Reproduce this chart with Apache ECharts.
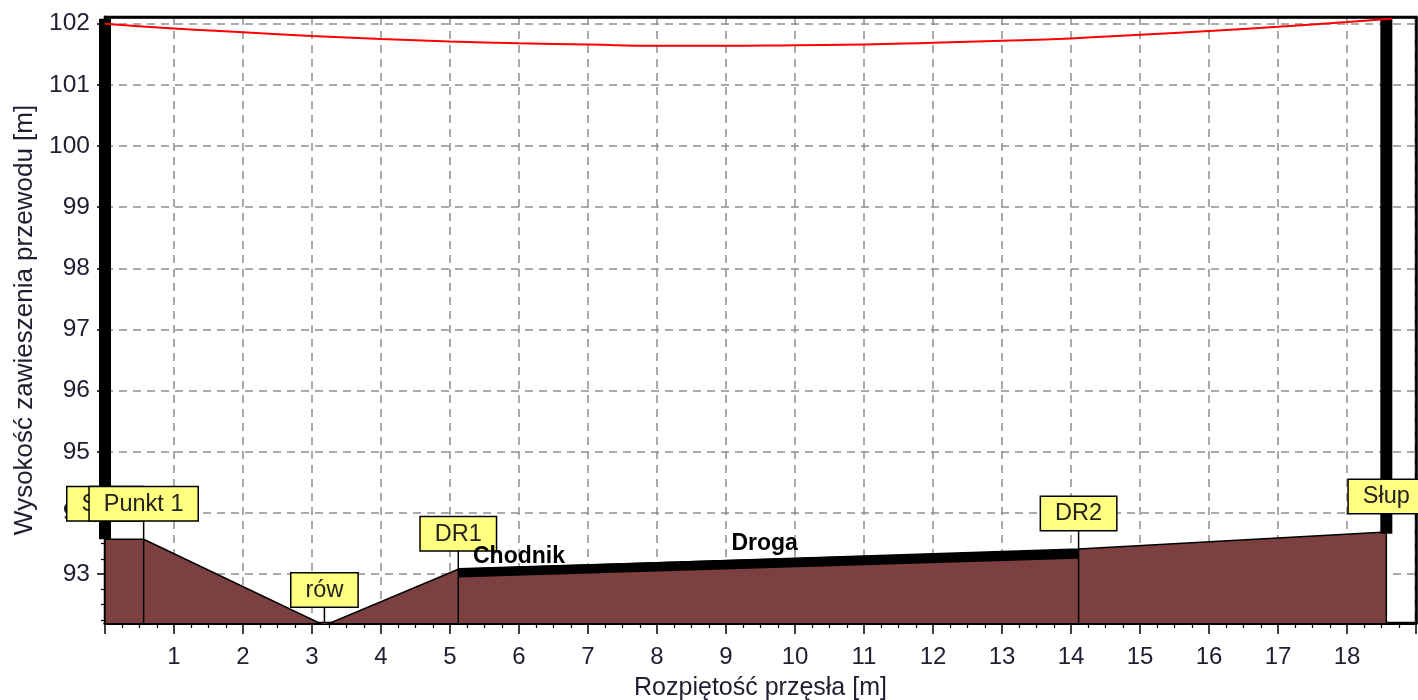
<!DOCTYPE html>
<html><head><meta charset="utf-8">
<script src="https://cdn.jsdelivr.net/npm/echarts@6/dist/echarts.min.js"></script>
<style>html,body{margin:0;padding:0;background:#fff}#c{width:1418px;height:700px}</style>
</head><body><div id="c"></div>
<script>
// ---- data ----
const Y_MIN = 92.2, Y_MAX = 102.11, X_MIN = 0, X_MAX = 19;
const yTickValues = [93, 94, 95, 96, 97, 98, 99, 100, 101, 102];
const xLabelValues = [1, 2, 3, 4, 5, 6, 7, 8, 9, 10, 11, 12, 13, 14, 15, 16, 17, 18];

const groundX = [0, 0.56, 3.18, 5.12, 14.11, 18.57];
const groundY = [93.57, 93.57, 92.16, 93.08, 93.41, 93.69];

const roadX = [5.12, 14.11];
const roadY = [93.02, 93.33];
const roadLabels = ['Chodnik', 'Droga'];
const roadLabelX = [6.0, 9.56];
const roadLabelY = [93.10, 93.31];

const conductorX = [0, 1, 2, 3, 4, 5, 6, 7, 8, 9, 10, 11, 12, 13, 14, 15, 16, 17, 18, 18.65];
const conductorY = [102.00, 101.92, 101.86, 101.80, 101.75, 101.71, 101.68, 101.66, 101.64, 101.64,
                    101.65, 101.66, 101.69, 101.72, 101.76, 101.82, 101.88, 101.95, 102.03, 102.08];

const poleX = [0, 18.57];
const poleBase = [93.57, 93.66];
const poleTop = [102.08, 102.08];

const markerNames = ['Słup', 'Punkt 1', 'rów', 'DR1', 'DR2', 'Słup'];
const markerX = [0, 0.56, 3.18, 5.12, 14.11, 18.57];
const markerY = [93.57, 93.57, 92.16, 93.08, 93.41, 93.69];

// ---- build ----
const FONT = '"Liberation Sans", Arial, sans-serif';
const zip = (a, b) => a.map((v, i) => [v, b[i]]);
const yMinorValues = [];
for (let v = 92.25; v < Y_MAX; v += 0.25) {
  const r = Math.round(v * 100) / 100;
  if (Math.abs(r - Math.round(r)) > 1e-6) yMinorValues.push(r);
}
const gridDash = { color: '#8f8f8f', width: 1.5, type: [8, 6] };
const textColor = '#1e1e30';

const chart = echarts.init(document.getElementById('c'), null, { renderer: 'canvas' });

const poleSeries = poleX.map((px, i) => ({
  type: 'line', data: [[px, poleBase[i]], [px, poleTop[i]]],
  symbol: 'none', lineStyle: { color: '#000', width: 12 }, z: 4, silent: true
}));

chart.setOption({
  animation: false,
  grid: { left: 105, right: 2, top: 17, bottom: 77, show: true, borderColor: '#000', borderWidth: 2.5,
          containLabel: false, outerBoundsMode: 'none' },
  xAxis: [{
    type: 'value', min: X_MIN, max: X_MAX, interval: 1,
    name: 'Rozpiętość przęsła [m]', nameLocation: 'middle', nameGap: 53,
    nameTextStyle: { fontFamily: FONT, fontSize: 25, color: textColor },
    axisLine: { show: true, onZero: false, lineStyle: { color: '#000', width: 3 } },
    axisTick: { show: true, length: 11, lineStyle: { color: '#000', width: 1.5 } },
    minorTick: { show: true, splitNumber: 4, length: 5, lineStyle: { color: '#000', width: 1.2 } },
    axisLabel: {
      fontFamily: FONT, fontSize: 24, color: textColor, margin: 22,
      formatter: v => (xLabelValues.indexOf(v) >= 0 ? String(v) : '')
    },
    splitLine: { show: true, lineStyle: gridDash }
  }, {
    type: 'value', min: X_MIN, max: X_MAX, position: 'top',
    axisLine: { show: true, onZero: false, lineStyle: { color: '#000', width: 2.5 } },
    axisTick: { show: false }, axisLabel: { show: false }, splitLine: { show: false }
  }],
  yAxis: [{
    type: 'value', min: Y_MIN, max: Y_MAX,
    name: 'Wysokość zawieszenia przewodu [m]', nameLocation: 'middle', nameGap: 67,
    nameTextStyle: { fontFamily: FONT, fontSize: 26, color: textColor },
    axisLine: { show: true, onZero: false, lineStyle: { color: '#000', width: 3 } },
    axisTick: { show: true, length: 8, customValues: yTickValues, lineStyle: { color: '#000', width: 1.5 } },
    axisLabel: { fontFamily: FONT, fontSize: 24.5, color: textColor, margin: 15, customValues: yTickValues },
    splitLine: { show: false }
  }, {
    type: 'value', min: Y_MIN, max: Y_MAX, position: 'left',
    axisLine: { show: false },
    axisTick: { show: true, length: 4, customValues: yMinorValues, lineStyle: { color: '#000', width: 1.2 } },
    axisLabel: { show: false },
    splitLine: { show: false }
  }, {
    type: 'value', min: Y_MIN, max: Y_MAX, position: 'right',
    axisLine: { show: true, onZero: false, lineStyle: { color: '#000', width: 2.5 } },
    axisTick: { show: false }, axisLabel: { show: false }, splitLine: { show: false }
  }],
  series: [
    {
      type: 'line', data: zip(groundX, groundY), symbol: 'none', z: 2, silent: true,
      lineStyle: { color: '#000', width: 1.5 },
      areaStyle: { color: '#7c4040', opacity: 1, origin: 'start' },
      markLine: {
        silent: true, symbol: 'none', label: { show: false }, z: 1,
        lineStyle: gridDash,
        data: yTickValues.map(v => ({ yAxis: v }))
      }
    },
    {
      type: 'line', data: zip(roadX, roadY), symbol: 'none', z: 3, silent: true,
      lineStyle: { color: '#000', width: 9.5, cap: 'butt' }
    },
    ...poleSeries,
    {
      type: 'line', data: zip(conductorX, conductorY), symbol: 'none', smooth: true, z: 5, silent: true,
      lineStyle: { color: '#ff0000', width: 2 }
    },
    {
      type: 'custom', data: zip(markerX, markerY), clip: false, z: 7, silent: true,
      renderItem: (params, api) => {
        const p = api.coord([api.value(0), api.value(1)]);
        const pb = api.coord([api.value(0), Y_MIN]);
        const top = p[1] - 19;
        return {
          type: 'group', children: [
            { type: 'line', shape: { x1: p[0], y1: pb[1], x2: p[0], y2: top }, style: { stroke: '#000', lineWidth: 1.5 } },
            { type: 'text', x: p[0], y: top,
              style: { text: markerNames[params.dataIndex], fill: '#222', fontFamily: FONT, fontSize: 23.5,
                align: 'center', verticalAlign: 'bottom', backgroundColor: '#ffff80',
                borderColor: '#000', borderWidth: 1.5, padding: [5, 14, 4, 14] } }
          ]
        };
      }
    },
    {
      type: 'custom', data: zip(roadLabelX, roadLabelY), clip: false, z: 8, silent: true,
      renderItem: (params, api) => {
        const p = api.coord([api.value(0), api.value(1)]);
        return {
          type: 'text', x: p[0], y: p[1],
          style: { text: roadLabels[params.dataIndex], fill: '#000', fontFamily: FONT, fontSize: 23, fontWeight: 'bold', align: 'center', verticalAlign: 'bottom' }
        };
      }
    }
  ]
});
</script></body></html>
